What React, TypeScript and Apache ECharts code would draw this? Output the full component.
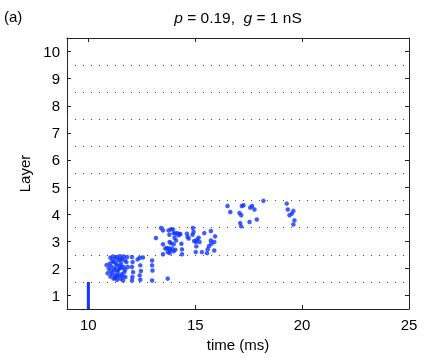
import React, { useEffect, useRef } from "react";
import * as echarts from "echarts";

const xTicks = [10, 15, 20, 25];
const yTicks = [1, 2, 3, 4, 5, 6, 7, 8, 9, 10];
const layerLines = [1.5, 2.5, 3.5, 4.5, 5.5, 6.5, 7.5, 8.5, 9.5];

// layer 1: all neurons fire at t = 10 ms
const layer1: [number, number][] = [[10, 0.5], [10, 1.5]];

const layer2: [number, number][] = [
  [11.03, 2.39], [11.15, 2.44], [11.0, 2.17], [10.95, 1.99], [11.07, 2.07], [11.18, 2.23],
  [11.26, 2.36], [11.34, 2.42], [11.42, 2.32], [11.31, 2.11], [11.21, 1.92], [11.11, 1.8],
  [11.03, 1.7], [11.26, 1.74], [11.37, 1.86], [11.46, 1.99], [11.53, 2.17], [11.57, 2.36],
  [11.65, 2.44], [11.5, 1.62], [11.34, 1.58], [11.18, 1.62], [11.65, 2.05], [11.68, 1.86],
  [11.73, 1.68], [11.62, 1.55], [11.78, 2.23], [11.81, 2.42], [11.84, 2.05], [11.42, 1.74],
  [11.57, 1.78], [12.04, 2.42], [12.07, 2.23], [12.04, 2.05], [12.09, 1.86], [12.06, 1.68],
  [12.04, 1.55], [12.4, 2.39], [12.43, 2.11], [12.46, 1.9], [12.4, 1.74], [12.43, 1.58],
  [12.98, 2.29], [12.98, 2.11], [13.0, 1.92], [12.98, 1.55], [11.22, 2.0], [11.3, 2.2],
  [11.45, 2.1], [11.38, 1.95], [11.5, 2.3], [11.25, 1.65], [11.6, 1.7], [11.7, 2.3],
  [11.12, 2.28], [11.05, 1.9], [11.48, 2.45], [11.72, 1.95], [11.55, 2.02], [11.35, 1.72],
  [10.85, 2.12], [10.9, 1.82], [12.3, 2.33], [12.55, 2.4], [13.71, 1.62]
];

const layer3: [number, number][] = [
  [13.16, 3.12], [13.4, 3.49], [13.49, 3.4], [13.75, 3.4], [13.86, 3.44], [13.96, 3.44],
  [13.79, 3.24], [13.99, 3.3], [14.07, 3.28], [14.14, 3.3], [14.27, 3.28], [14.22, 3.22],
  [14.3, 3.26], [14.03, 3.13], [14.1, 3.03], [13.49, 2.89], [13.8, 2.97], [13.86, 2.93],
  [13.99, 2.89], [13.6, 2.73], [13.68, 2.75], [13.77, 2.73], [13.83, 2.66], [13.91, 2.73],
  [13.99, 2.63], [14.07, 2.69], [13.71, 2.6], [13.8, 2.56], [13.49, 2.52], [14.35, 2.91],
  [14.38, 2.7], [14.38, 2.52], [14.61, 3.28], [14.64, 3.16], [14.69, 3.1], [14.89, 3.49],
  [14.92, 3.34], [14.87, 3.24], [14.95, 3.01], [15.03, 2.97], [15.08, 3.06], [15.16, 3.13],
  [15.2, 2.97], [15.05, 2.81], [15.02, 2.6], [15.31, 2.6], [15.42, 3.3], [15.58, 2.7],
  [15.55, 2.56], [15.64, 2.82], [15.73, 3.38], [15.73, 3.03], [15.75, 2.91], [15.89, 2.97],
  [15.89, 2.66], [15.93, 3.18]
];

const layer4: [number, number][] = [
  [16.51, 4.3], [16.64, 4.08], [17.18, 4.3], [17.26, 4.33], [17.07, 4.04], [17.15, 3.96],
  [17.1, 3.67], [17.15, 3.55], [17.57, 4.24], [17.66, 4.3], [17.77, 4.17], [17.54, 3.71],
  [17.88, 3.8], [18.19, 4.49], [19.28, 4.39], [19.33, 4.17], [19.59, 4.12], [19.52, 4.02],
  [19.41, 3.96], [19.64, 3.77], [19.59, 3.62]
];

const FONT = "Liberation Sans";
const FS = 15;
const AX = "#222";
const BLUE = "#0f35ff";

export default function App() {
  const ref = useRef<HTMLDivElement>(null);
  useEffect(() => {
    if (!ref.current) return;
    const chart = echarts.init(ref.current, null, { renderer: "svg" });
    const scatterStyle = { color: BLUE };
    const axisCommon = {
      type: "value" as const,
      axisLine: { show: true, onZero: false, lineStyle: { color: AX, width: 1 } },
      splitLine: { show: false },
    };
    chart.setOption({
      animation: false,
      textStyle: { fontFamily: FONT },
      grid: { left: 67, right: 16, top: 38, bottom: 49 },
      xAxis: [
        {
          ...axisCommon,
          min: 9,
          max: 25,
          position: "bottom",
          name: "time (ms)",
          nameLocation: "middle",
          nameGap: 28,
          nameTextStyle: { fontFamily: FONT, fontSize: FS, color: "#000" },
          axisTick: { show: true, inside: true, length: 4, customValues: xTicks, lineStyle: { color: AX } },
          axisLabel: { customValues: xTicks, fontFamily: FONT, fontSize: FS, color: "#000", margin: 8 },
        },
        {
          ...axisCommon,
          min: 9,
          max: 25,
          position: "top",
          axisTick: { show: true, inside: true, length: 4, customValues: xTicks, lineStyle: { color: AX } },
          axisLabel: { show: false },
        },
      ],
      yAxis: [
        {
          ...axisCommon,
          min: 0.5,
          max: 10.5,
          position: "left",
          name: "Layer",
          nameLocation: "middle",
          nameGap: 32,
          nameTextStyle: { fontFamily: FONT, fontSize: FS, color: "#000" },
          axisTick: { show: true, inside: true, length: 4, customValues: yTicks, lineStyle: { color: AX } },
          axisLabel: { customValues: yTicks, fontFamily: FONT, fontSize: FS, color: "#000", margin: 7 },
        },
        {
          ...axisCommon,
          min: 0.5,
          max: 10.5,
          position: "right",
          axisTick: { show: true, inside: true, length: 4, customValues: yTicks, lineStyle: { color: AX } },
          axisLabel: { show: false },
        },
      ],
      graphic: [
        {
          type: "text",
          x: 238,
          y: 17,
          style: {
            text: "{i|p} = 0.19,  {i|g} = 1 nS",
            align: "center",
            verticalAlign: "middle",
            fontFamily: FONT,
            fontSize: 15.5,
            fill: "#000",
            rich: { i: { fontStyle: "italic", fontFamily: FONT, fontSize: 15.5 } },
          },
        },
        {
          type: "text",
          x: 4,
          y: 16,
          style: { text: "(a)", verticalAlign: "middle", fontFamily: FONT, fontSize: FS, fill: "#000" },
        },
      ],
      series: [
        {
          type: "line",
          data: layer1,
          showSymbol: false,
          symbol: "none",
          lineStyle: { color: BLUE, width: 3 },
          markLine: {
            silent: true,
            symbol: "none",
            label: { show: false },
            lineStyle: { color: "#444", width: 1, type: [1, 7] },
            data: layerLines.map((v) => ({ yAxis: v })),
          },
        },
        { type: "scatter", data: layer2, symbolSize: 4.5, itemStyle: scatterStyle },
        { type: "scatter", data: layer3, symbolSize: 4.5, itemStyle: scatterStyle },
        { type: "scatter", data: layer4, symbolSize: 4.5, itemStyle: scatterStyle },
      ],
    });
    return () => chart.dispose();
  }, []);
  return (
    <div
      ref={ref}
      style={{ position: "fixed", left: 0, top: 0, width: 425, height: 358 }}
    />
  );
}
